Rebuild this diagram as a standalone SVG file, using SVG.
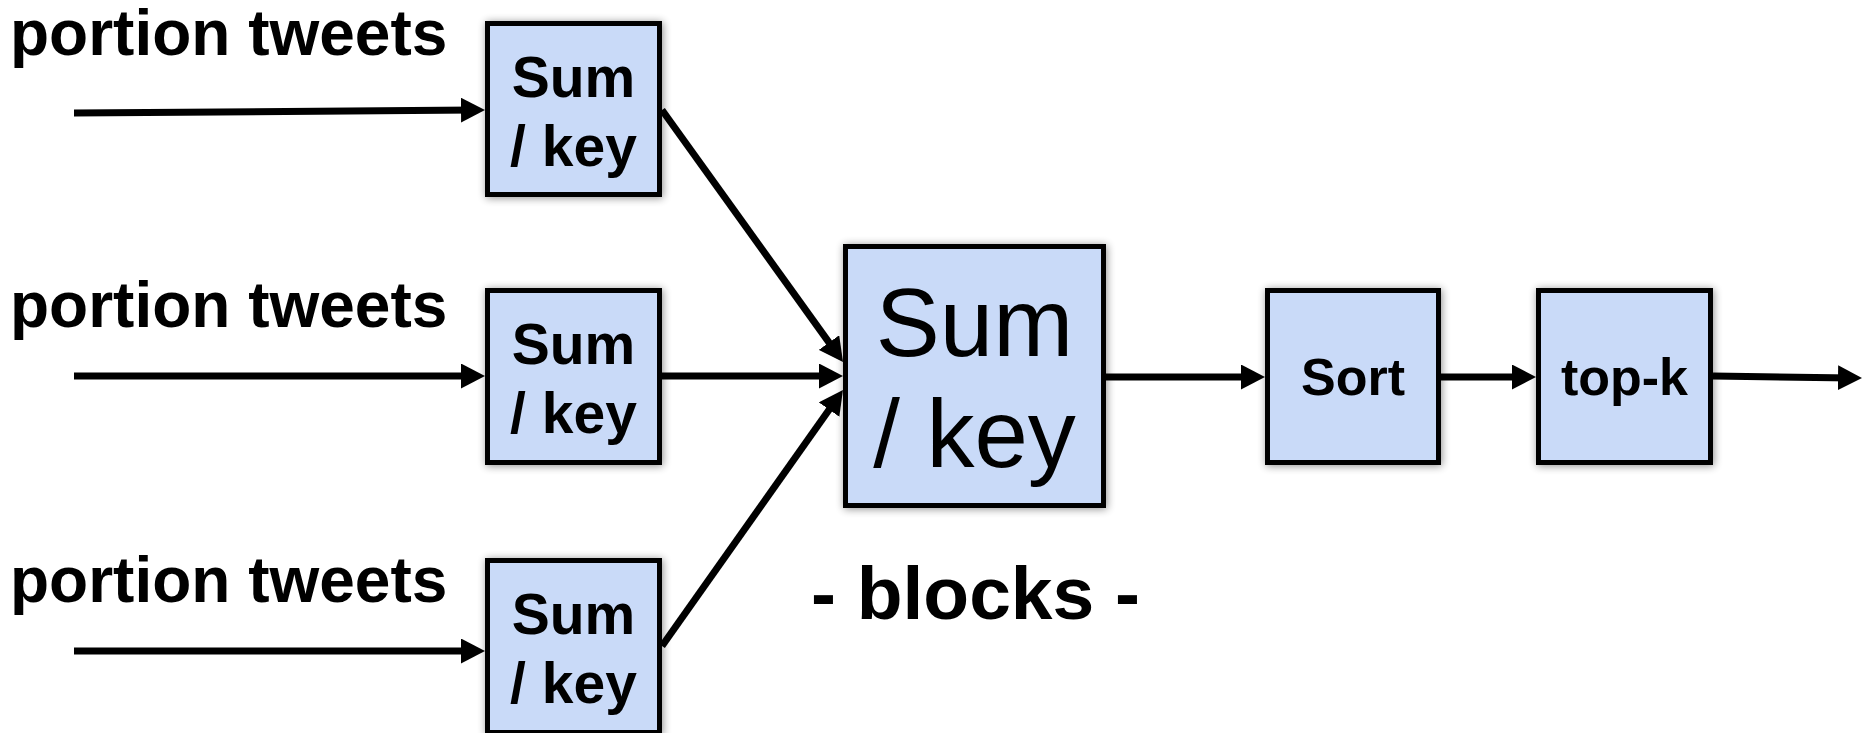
<svg xmlns="http://www.w3.org/2000/svg" width="1864" height="733" viewBox="0 0 1864 733">
  <style>
    .box { fill: #c9daf8; stroke: #000; stroke-width: 5; filter: url(#soft); }
    .lbl { font-family: "Liberation Sans", Arial, sans-serif; fill: #000; }
    .b { font-weight: bold; }
    .small { font-size: 57px; text-anchor: middle; }
    .big { font-size: 96px; text-anchor: middle; }
    .mid { font-size: 52px; text-anchor: middle; }
    .src { font-size: 64px; }
    .wire { stroke: #000; stroke-width: 7; fill: none; marker-end: url(#head); }
  </style>
  <defs>
    <filter id="soft" x="-20%" y="-20%" width="140%" height="140%">
      <feGaussianBlur in="SourceAlpha" stdDeviation="4"/>
      <feOffset dx="1" dy="1" result="blur"/>
      <feComponentTransfer><feFuncA type="linear" slope="0.45"/></feComponentTransfer>
      <feMerge><feMergeNode/><feMergeNode in="SourceGraphic"/></feMerge>
    </filter>
    <marker id="head" markerUnits="userSpaceOnUse" markerWidth="24" markerHeight="25" refX="14" refY="12.5" orient="auto">
      <path d="M0,0 L24,12.5 L0,25 z" fill="#000"/>
    </marker>
  </defs>

  <!-- input labels -->
  <g id="inputs">
    <text class="lbl b src" x="10" y="55">portion tweets</text>
    <text class="lbl b src" x="10" y="327">portion tweets</text>
    <text class="lbl b src" x="10" y="602">portion tweets</text>
  </g>

  <!-- connectors -->
  <g id="connectors">
    <line class="wire" x1="74" y1="113" x2="475" y2="110"/>
    <line class="wire" x1="74" y1="376" x2="475" y2="376"/>
    <line class="wire" x1="74" y1="651" x2="475" y2="651"/>
    <line class="wire" x1="662" y1="110" x2="837.2" y2="353.9"/>
    <line class="wire" x1="662" y1="376" x2="833" y2="376"/>
    <line class="wire" x1="662" y1="646" x2="837.2" y2="398.2"/>
    <line class="wire" x1="1106" y1="377" x2="1255" y2="377"/>
    <line class="wire" x1="1441" y1="377" x2="1526" y2="377"/>
    <line class="wire" x1="1713" y1="376" x2="1852" y2="377.9"/>
  </g>

  <g id="sum1">
    <rect class="box" x="487.5" y="23.5" width="172" height="171"/>
    <text class="lbl b small" x="573.5" y="97">Sum</text>
    <text class="lbl b small" x="573.5" y="166">/ key</text>
  </g>
  <g id="sum2">
    <rect class="box" x="487.5" y="290.5" width="172" height="172"/>
    <text class="lbl b small" x="573.5" y="364">Sum</text>
    <text class="lbl b small" x="573.5" y="433">/ key</text>
  </g>
  <g id="sum3">
    <rect class="box" x="487.5" y="560.5" width="172" height="172"/>
    <text class="lbl b small" x="573.5" y="634">Sum</text>
    <text class="lbl b small" x="573.5" y="703">/ key</text>
  </g>
  <g id="sumAll">
    <rect class="box" x="845.5" y="246.5" width="258" height="259"/>
    <text class="lbl big" x="974.5" y="356">Sum</text>
    <text class="lbl big" x="974.5" y="467">/ key</text>
  </g>
  <g id="sort">
    <rect class="box" x="1267.5" y="290.5" width="171" height="172"/>
    <text class="lbl b mid" x="1353" y="395">Sort</text>
  </g>
  <g id="topk">
    <rect class="box" x="1538.5" y="290.5" width="172" height="172"/>
    <text class="lbl b mid" x="1624.5" y="395">top-k</text>
  </g>

  <text id="caption" class="lbl b" x="975.5" y="619" font-size="75" text-anchor="middle">- blocks -</text>
</svg>
